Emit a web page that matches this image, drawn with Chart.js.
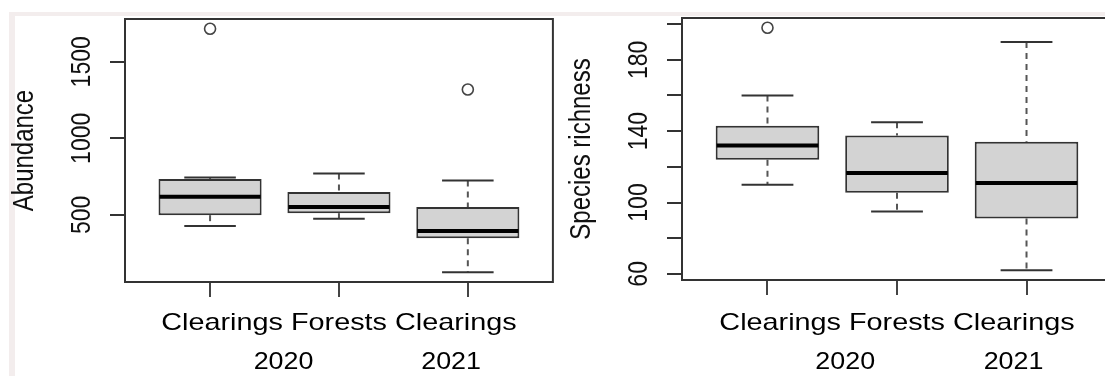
<!DOCTYPE html>
<html>
<head>
<meta charset="utf-8">
<script src="https://cdn.jsdelivr.net/npm/chart.js@4.4.1/dist/chart.umd.min.js"></script>
<style>
    html, body { margin: 0; padding: 0; background: #fff; width: 1105px; height: 376px; overflow: hidden; }
    .band-top { position: absolute; left: 9px; top: 12px; width: 1096px; height: 4px; background: #f3eded; }
    .band-left { position: absolute; left: 9px; top: 12px; width: 6px; height: 364px; background: #f3eded; }
    .panel { position: absolute; top: 0; width: 560px; height: 376px; }
</style>
</head>
<body>
<div class="band-top"></div>
<div class="band-left"></div>
<div class="panel" style="left:0"><canvas id="abundanceChart" width="560" height="376"></canvas></div>
<div class="panel" style="left:560px"><canvas id="richnessChart" width="560" height="376"></canvas></div>

<script>
// group names and years under the boxes
const groups = ['Clearings', 'Forests', 'Clearings'];
const years = ['2020', '2021'];

// Abundance: whisker ends, quartiles, medians, outliers
const abundanceLow = [428, 474, 125];
const abundanceQ1 = [498, 511, 347];
const abundanceMedian = [618, 552, 395];
const abundanceQ3 = [735, 649, 552];
const abundanceHigh = [744, 771, 725];
const abundanceOutliers = [[1716], [], [1319]];
const abundanceTicks = [500, 1000, 1500];
const abundanceTickLabels = [500, 1000, 1500];

// Species richness
const richnessLow = [110, 95, 62];
const richnessQ1 = [124, 105.5, 91];
const richnessMedian = [132, 116.5, 111];
const richnessQ3 = [143, 137.5, 134];
const richnessHigh = [160, 145, 190];
const richnessOutliers = [[198], [], []];
const richnessTicks = [60, 80, 100, 120, 140, 160, 180, 200];
const richnessTickLabels = [60, 100, 140, 180];

const FONT = '"Liberation Sans", Arial, Helvetica, sans-serif';
const STRETCH = 1.2;

function line(ctx, x1, y1, x2, y2) {
    ctx.beginPath();
    ctx.moveTo(x1, y1);
    ctx.lineTo(x2, y2);
    ctx.stroke();
}

// text stretched horizontally like the scanned figure
function stretchedText(ctx, text, x, y, sx, rotate) {
    ctx.save();
    ctx.translate(x, y);
    ctx.scale(sx, 1);
    if (rotate) ctx.rotate(-Math.PI / 2);
    ctx.fillText(text, 0, 0);
    ctx.restore();
}

const rBoxplot = {
    id: 'rBoxplot',
    beforeDatasetsDraw(chart, args, opts) {
        const {ctx, chartArea: a, scales: {y}} = chart;
        const meta = chart.getDatasetMeta(0);
        ctx.save();
        ctx.strokeStyle = '#333';
        ctx.lineWidth = 2;
        ctx.strokeRect(a.left, a.top, a.right - a.left, a.bottom - a.top);

        opts.low.forEach((lo, i) => {
            const bar = meta.data[i];
            const cx = bar.x;
            const half = bar.width / 4;
            ctx.setLineDash([6, 5]);
            ctx.strokeStyle = '#555';
            ctx.lineWidth = 2;
            line(ctx, cx, y.getPixelForValue(opts.high[i]), cx, y.getPixelForValue(opts.q3[i]));
            line(ctx, cx, y.getPixelForValue(opts.q1[i]), cx, y.getPixelForValue(lo));
            ctx.setLineDash([]);
            ctx.strokeStyle = '#333';
            line(ctx, cx - half, y.getPixelForValue(opts.high[i]), cx + half, y.getPixelForValue(opts.high[i]));
            line(ctx, cx - half, y.getPixelForValue(lo), cx + half, y.getPixelForValue(lo));
        });
        ctx.restore();
    },
    afterDatasetsDraw(chart, args, opts) {
        const {ctx, scales: {y}} = chart;
        const meta = chart.getDatasetMeta(0);
        ctx.save();
        ctx.strokeStyle = '#000';
        ctx.lineWidth = 4;
        opts.median.forEach((m, i) => {
            const bar = meta.data[i];
            const py = y.getPixelForValue(m);
            line(ctx, bar.x - bar.width / 2 + 1, py, bar.x + bar.width / 2 - 1, py);
        });
        ctx.restore();
    },
    afterDraw(chart, args, opts) {
        const {ctx, chartArea: a, scales: {x, y}} = chart;
        ctx.save();
        ctx.fillStyle = '#111';
        ctx.textAlign = 'center';
        ctx.textBaseline = 'middle';

        ctx.font = '23px ' + FONT;
        opts.tickLabels.forEach(v => {
            stretchedText(ctx, String(v), a.left - 42.5, y.getPixelForValue(v), STRETCH, true);
        });

        ctx.font = '24px ' + FONT;
        stretchedText(ctx, opts.title, a.left - 100, (a.top + a.bottom) / 2, STRETCH, true);

        ctx.fillStyle = '#000';
        ctx.textBaseline = 'alphabetic';
        stretchedText(ctx, groups.join(' '), x.getPixelForValue(2), 330, STRETCH, false);
        opts.yearAt.forEach((pos, i) => {
            stretchedText(ctx, years[i], x.getPixelForValue(pos), 369, 1.12, false);
        });
        ctx.restore();
    }
};

function createBoxChart(canvasId, stats, padding) {
    const ctx = document.getElementById(canvasId);
    const all = stats.low.concat(stats.high, stats.outliers.flat());
    const lo = Math.min(...all);
    const hi = Math.max(...all);
    const ext = (hi - lo) * 0.04;

    const boxes = groups.map((g, i) => ({x: i + 1, y: [stats.q1[i], stats.q3[i]]}));
    const points = [];
    stats.outliers.forEach((list, i) => list.forEach(v => points.push({x: i + 1, y: v})));

    return new Chart(ctx, {
        type: 'bar',
        data: {
            datasets: [{
                data: boxes,
                backgroundColor: '#d3d3d3',
                borderColor: '#333',
                borderWidth: 2,
                borderSkipped: false,
                barPercentage: 0.8,
                categoryPercentage: 1
            }, {
                type: 'scatter',
                data: points,
                pointRadius: 5.5,
                borderWidth: 1.6,
                borderColor: '#444',
                backgroundColor: 'rgba(0,0,0,0)'
            }]
        },
        options: {
            responsive: false,
            animation: false,
            layout: {padding: padding},
            scales: {
                x: {
                    type: 'linear',
                    offset: false,
                    min: 0.34,
                    max: 3.66,
                    afterBuildTicks: scale => { scale.ticks = groups.map((g, i) => ({value: i + 1})); },
                    ticks: {display: false},
                    border: {display: false},
                    grid: {offset: false, drawOnChartArea: false, drawTicks: true, tickLength: 15, tickColor: '#444', lineWidth: 2}
                },
                y: {
                    type: 'linear',
                    min: lo - ext,
                    max: hi + ext,
                    afterBuildTicks: scale => { scale.ticks = stats.ticks.map(v => ({value: v})); },
                    ticks: {display: false},
                    border: {display: false},
                    grid: {drawOnChartArea: false, drawTicks: true, tickLength: 15, tickColor: '#333', lineWidth: 2}
                }
            },
            plugins: {
                legend: {display: false},
                tooltip: {enabled: false},
                rBoxplot: stats
            }
        },
        plugins: [rBoxplot]
    });
}

createBoxChart('abundanceChart', {
    title: 'Abundance',
    low: abundanceLow, q1: abundanceQ1, median: abundanceMedian, q3: abundanceQ3, high: abundanceHigh,
    outliers: abundanceOutliers,
    ticks: abundanceTicks, tickLabels: abundanceTickLabels,
    yearAt: [1.57, 2.87]
}, {left: 110, right: 4, top: 19, bottom: 79});

createBoxChart('richnessChart', {
    title: 'Species richness',
    low: richnessLow, q1: richnessQ1, median: richnessMedian, q3: richnessQ3, high: richnessHigh,
    outliers: richnessOutliers,
    ticks: richnessTicks, tickLabels: richnessTickLabels,
    yearAt: [1.6, 2.9]
}, {left: 107, right: 8, top: 18, bottom: 81});
</script>
</body>
</html>
